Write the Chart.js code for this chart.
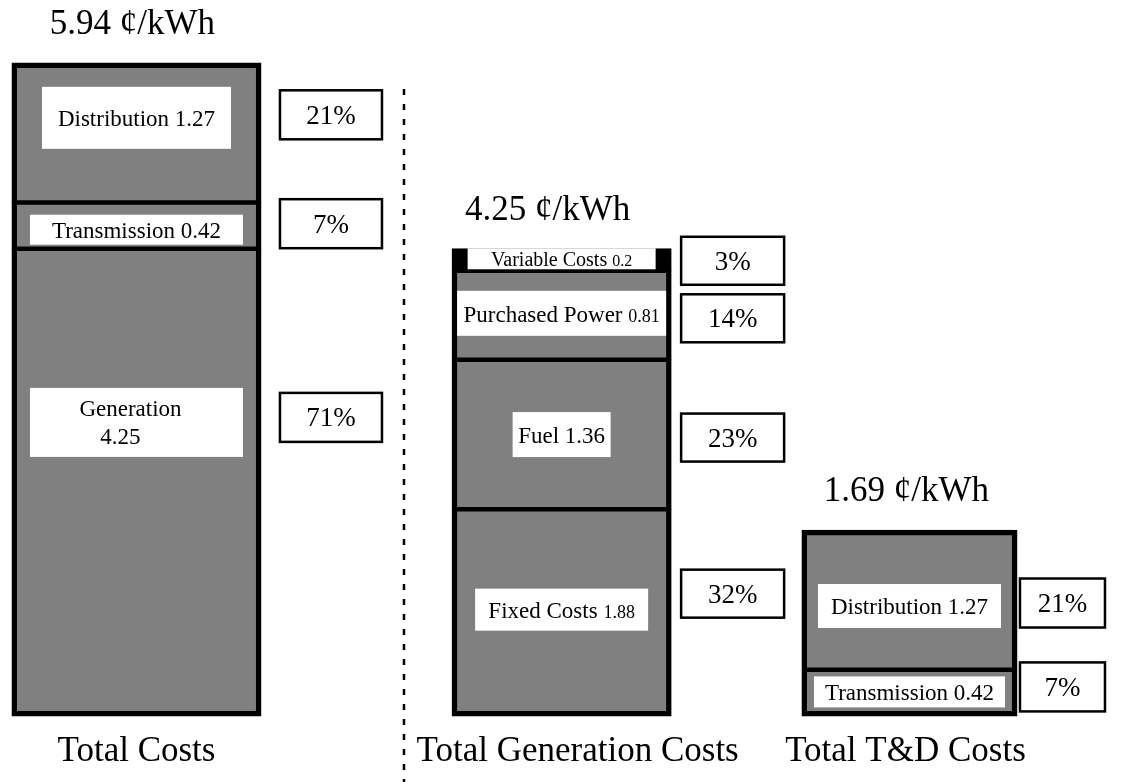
<!DOCTYPE html>
<html>
<head>
<meta charset="utf-8">
<title>Electricity cost breakdown</title>
<script src="https://cdn.jsdelivr.net/npm/chart.js@4.4.1/dist/chart.umd.min.js"></script>
<style>
  html, body { margin: 0; padding: 0; background: #fff; }
  canvas { display: block; }
</style>
</head>
<body>
<canvas id="costs" width="1123" height="782"></canvas>
<script>
// ---- Data (¢/kWh). Segments are listed bottom-to-top, the order they stack in. ----
const columnNames = ['Total Costs', 'Total Generation Costs', 'Total T&D Costs'];
const columnTotals = [5.94, 4.25, 1.69];

const totalCostNames = ['Generation', 'Transmission', 'Distribution'];
const totalCostValues = [4.25, 0.42, 1.27];
const totalCostShares = [71, 7, 21];

const generationNames = ['Fixed Costs', 'Fuel', 'Purchased Power', 'Variable Costs'];
const generationValues = [1.88, 1.36, 0.81, 0.2];
const generationShares = [32, 23, 14, 3];

const tdNames = ['Transmission', 'Distribution'];
const tdValues = [0.42, 1.27];
const tdShares = [7, 21];

// ---- Layout and styling ----
const SERIF = '"Liberation Serif", "Times New Roman", Times, serif';
const GRAY = '#808080';
const SLOT_COUNT = 23;            // category grid the columns sit on
const columnSlots = [1, 12, 21];  // grid slot of each column
const barWidths = [249, 219, 215];
const EDGE = 5.5;                 // outer outline of a column
const SEAM = 2.75;                // half of the line between two segments

// Label panel per segment: [width, height, vertical shift from segment centre], font sizes
const segmentStyles = [
  [
    { box: [213, 69, -60], name: 23, value: 23, twoLines: true },
    { box: [213, 30, 4], name: 23, value: 23 },
    { box: [189, 62, -15], name: 23, value: 23 },
  ],
  [
    { box: [173, 42, -3], name: 23, value: 18 },
    { box: [98, 45, 0], name: 23, value: 23 },
    { box: [209, 45, -2], name: 23, value: 18 },
    { box: [188, 21, -1], name: 20, value: 16, fill: '#000' },
  ],
  [
    { box: [191, 31, -1], name: 23, value: 23 },
    { box: [183, 44, 6], name: 23, value: 23 },
  ],
];
// Share-of-total boxes to the right of each column
const shareStyles = [
  { gap: 19, w: 102, h: 49, dy: [-65, -2, -18] },
  { gap: 10, w: 103, h: 48, dy: [-19, 3, 3, 1] },
  { gap: 3, w: 85, h: 49, dy: [-6, 3] },
];
const titleDx = [-4, -14, -3];
const nameDx = [0, 16, -4];

const columns = [
  { names: totalCostNames, values: totalCostValues, shares: totalCostShares },
  { names: generationNames, values: generationValues, shares: generationShares },
  { names: tdNames, values: tdValues, shares: tdShares },
];

const slotLabels = Array.from({ length: SLOT_COUNT }, () => '');
columnSlots.forEach((s, c) => { slotLabels[s] = columnNames[c]; });

const datasets = [];
columns.forEach((col, c) => {
  const n = col.values.length;
  col.values.forEach((v, i) => {
    const st = segmentStyles[c][i];
    datasets.push({
      label: col.names[i],
      data: [{ x: columnNames[c], y: v }],
      stack: 'cost',
      backgroundColor: st.fill || GRAY,
      borderColor: '#000',
      borderWidth: {
        left: EDGE,
        right: EDGE,
        top: i === n - 1 ? EDGE : SEAM,
        bottom: i === 0 ? EDGE : SEAM,
      },
      borderSkipped: false,
      barThickness: barWidths[c],
      inflateAmount: 0.5,
      clip: false,
      column: c,
      segment: i,
    });
  });
});

function drawRun(ctx, parts, cx, baseline) {
  let total = 0;
  parts.forEach(p => {
    ctx.font = `${p.size}px ${SERIF}`;
    p.w = ctx.measureText(p.text).width;
    total += p.w;
  });
  let x = cx - total / 2;
  ctx.textAlign = 'left';
  ctx.textBaseline = 'alphabetic';
  parts.forEach(p => {
    ctx.font = `${p.size}px ${SERIF}`;
    ctx.fillText(p.text, x, baseline);
    x += p.w;
  });
}

const annotations = {
  id: 'annotations',
  afterDatasetsDraw(chart) {
    const ctx = chart.ctx;
    const tops = [];
    const bars = [];
    ctx.save();
    chart.data.datasets.forEach((ds, k) => {
      const bar = chart.getDatasetMeta(k).data[0];
      const c = ds.column, i = ds.segment;
      const col = columns[c];
      const st = segmentStyles[c][i];
      const cy = (bar.y + bar.base) / 2;
      const [bw, bh, bdy] = st.box;
      const by = cy + bdy;

      // white label panel with the segment name and value
      ctx.fillStyle = '#fff';
      ctx.fillRect(bar.x - bw / 2, by - bh / 2, bw, bh);
      ctx.fillStyle = '#000';
      if (st.twoLines) {
        const b1 = by - 6.5;
        drawRun(ctx, [{ text: col.names[i], size: st.name }], bar.x - 6, b1);
        drawRun(ctx, [{ text: String(col.values[i]), size: st.value }], bar.x - 16, b1 + 28);
      } else {
        drawRun(ctx, [
          { text: col.names[i] + ' ', size: st.name },
          { text: String(col.values[i]), size: st.value },
        ], bar.x, by + 0.36 * st.name);
      }

      // share-of-total box
      const sh = shareStyles[c];
      const left = bar.x + bar.width / 2 + sh.gap;
      const sy = cy + sh.dy[i];
      ctx.fillStyle = '#fff';
      ctx.fillRect(left, sy - sh.h / 2, sh.w, sh.h);
      ctx.lineWidth = 2.5;
      ctx.strokeStyle = '#000';
      ctx.strokeRect(left, sy - sh.h / 2, sh.w, sh.h);
      ctx.fillStyle = '#000';
      drawRun(ctx, [{ text: col.shares[i] + '%', size: 27 }], left + sh.w / 2, sy + 9);

      tops[c] = Math.min(tops[c] === undefined ? Infinity : tops[c], bar.y);
      bars[c] = bar;
    });

    // column totals above and column names below
    columns.forEach((col, c) => {
      const bar = bars[c];
      ctx.fillStyle = '#000';
      drawRun(ctx, [{ text: columnTotals[c].toFixed(2) + ' \u00a2/kWh', size: 35 }],
        bar.x + titleDx[c], tops[c] - 29);
      drawRun(ctx, [{ text: columnNames[c], size: 35 }],
        chart.scales.x.getPixelForValue(columnSlots[c]) + nameDx[c], chart.chartArea.bottom + 45);
    });

    // dashed separator between the overall total and its breakdowns
    const b0 = bars[0];
    const sepX = b0.x + b0.width / 2 + shareStyles[0].gap + shareStyles[0].w + 22;
    ctx.beginPath();
    ctx.setLineDash([6, 9]);
    ctx.lineWidth = 2.5;
    ctx.strokeStyle = '#000';
    ctx.moveTo(sepX, chart.chartArea.top + 26);
    ctx.lineTo(sepX, chart.height);
    ctx.stroke();
    ctx.restore();
  },
};

new Chart(document.getElementById('costs'), {
  type: 'bar',
  data: { labels: slotLabels, datasets },
  options: {
    responsive: false,
    animation: false,
    events: [],
    layout: { padding: { left: 78.5, right: 155.55, top: 63, bottom: 66 } },
    plugins: { legend: { display: false }, tooltip: { enabled: false }, title: { display: false } },
    scales: {
      x: {
        stacked: true,
        offset: true,
        display: false,
      },
      y: {
        stacked: true,
        display: false,
        min: 0,
        max: Math.max(...columnTotals),
      },
    },
  },
  plugins: [annotations],
});
</script>
</body>
</html>
